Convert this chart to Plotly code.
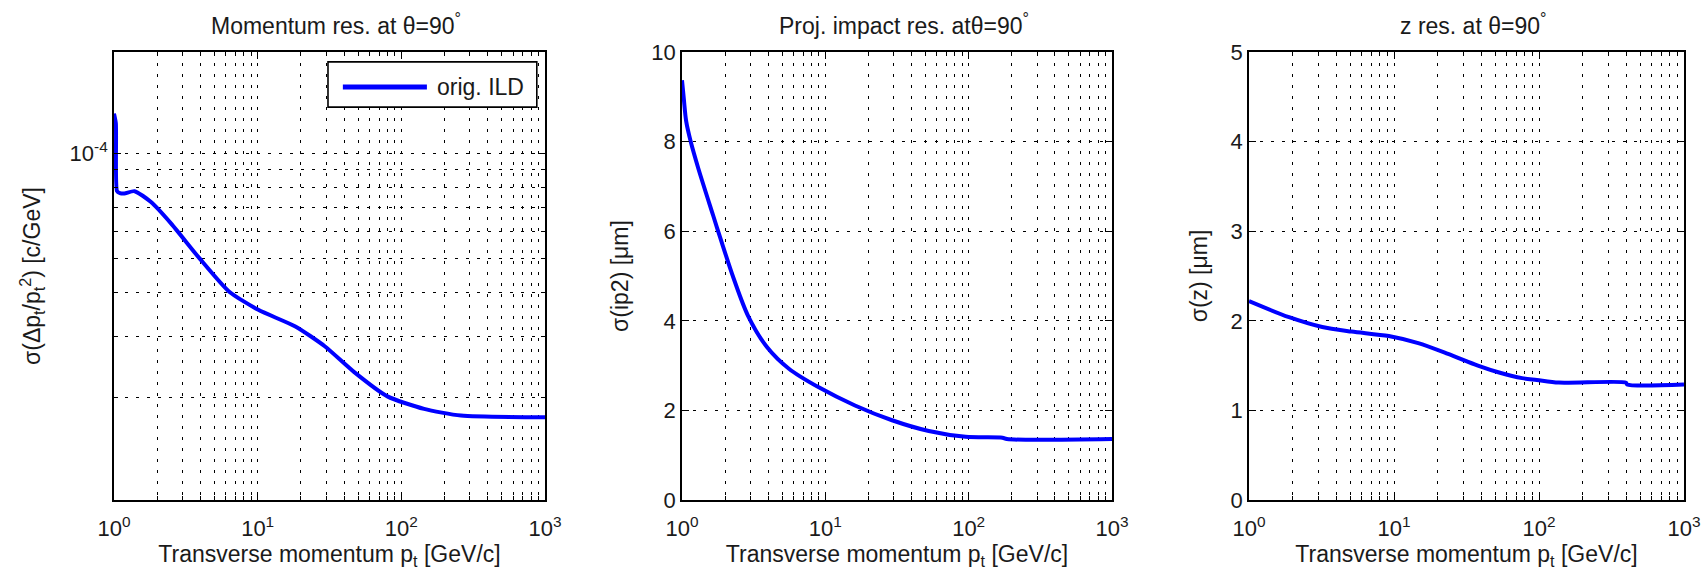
import plotly.graph_objects as go

# ---------------- data ----------------
pt_mom = [1.0, 1.03, 1.05, 1.1, 1.18, 1.39, 1.81, 2.5, 3.94, 6.31, 10.1, 18.3, 29.3, 47, 80, 144, 260, 1000]
res_mom = [1.30e-4, 1.22e-4, 7.8e-5, 7.7e-5, 7.68e-5, 7.8e-5, 7.26e-5, 6.3e-5, 5.01e-5, 4.03e-5,
           3.57e-5, 3.20e-5, 2.81e-5, 2.37e-5, 2.02e-5, 1.86e-5, 1.78e-5, 1.76e-5]

pt_ip = [1.0, 1.03, 1.07, 1.15, 1.3, 1.65, 1.85, 2.29, 2.9, 3.9, 5.57, 8.93, 16.1, 29.2, 52.7, 95.3, 172, 185, 1000]
res_ip = [9.37, 8.95, 8.45, 8.0, 7.4, 6.35, 5.85, 4.95, 4.1, 3.42, 2.93, 2.52, 2.11, 1.78, 1.54, 1.41, 1.39, 1.36, 1.36]

pt_z = [1.0, 1.89, 3.2, 5.1, 9.2, 14.7, 23.6, 37.9, 53.8, 76.5, 96.6, 137, 398, 405, 1000]
res_z = [2.22, 2.04, 1.93, 1.88, 1.83, 1.75, 1.63, 1.50, 1.42, 1.36, 1.34, 1.31, 1.31, 1.29, 1.29]

series_name = "orig. ILD"
titles = ["Momentum res. at θ=90<sup>°</sup>", "Proj. impact res. atθ=90<sup>°</sup>", "z res. at θ=90<sup>°</sup>"]
ylabels = ["σ(Δp<sub>t</sub>/p<sub>t</sub><sup>2</sup>) [c/GeV]", "σ(ip2) [μm]", "σ(z) [μm]"]
xlabel = "Transverse momentum p<sub>t</sub> [GeV/c]"

x_tickvals = [1, 10, 100, 1000]
x_ticktext = ["10<sup>0</sup>", "10<sup>1</sup>", "10<sup>2</sup>", "10<sup>3</sup>"]
x_minor = [m * d for d in (1, 10, 100) for m in range(2, 10)]
y1_tickvals = [1e-4]
y1_ticktext = ["10<sup>-4</sup>"]
y1_minor = [m * 1e-5 for m in range(2, 10)]
y2_tickvals = [0, 2, 4, 6, 8, 10]
y3_tickvals = [0, 1, 2, 3, 4, 5]

# ---------------- figure ----------------
W, H = 1706, 579
FONT = "Liberation Sans, Arial, sans-serif"
TXT = "#1a1a1a"
BLUE = "#0000ff"

fig = go.Figure()
fig.add_trace(go.Scatter(x=pt_mom, y=res_mom, mode="lines", name=series_name,
                         line=dict(color=BLUE, width=4, shape="spline", smoothing=0.6),
                         xaxis="x", yaxis="y", showlegend=False))
fig.add_trace(go.Scatter(x=pt_ip, y=res_ip, mode="lines", name=series_name,
                         line=dict(color=BLUE, width=4, shape="spline", smoothing=0.9),
                         xaxis="x2", yaxis="y2", showlegend=False))
fig.add_trace(go.Scatter(x=pt_z, y=res_z, mode="lines", name=series_name,
                         line=dict(color=BLUE, width=4, shape="spline", smoothing=0.8),
                         xaxis="x3", yaxis="y3", showlegend=False))

frames_px = [(114, 545), (682, 1112), (1249, 1684)]
top_px, bot_px = 52, 500
ydom = [1 - bot_px / H, 1 - top_px / H]

GD = "3px,8px"
common = dict(showline=True, linecolor="black", linewidth=1.8, mirror="allticks",
              ticks="inside", ticklen=7, tickwidth=1.3, tickcolor="black", zeroline=False,
              automargin=False, ticklabeloverflow="allow",
              showgrid=True, gridcolor="black", gridwidth=1.3, griddash=GD,
              tickfont=dict(size=22, color=TXT, family=FONT))

layout = dict(width=W, height=H, margin=dict(l=0, r=0, t=0, b=0, autoexpand=False),
              paper_bgcolor="white", plot_bgcolor="white",
              font=dict(family=FONT, color=TXT, size=22), showlegend=False)

for i, (l, r) in enumerate(frames_px):
    sfx = "" if i == 0 else str(i + 1)
    layout["xaxis" + sfx] = dict(
        type="log", range=[0, 3], domain=[l / W, r / W], anchor="y" + sfx,
        tickvals=x_tickvals, ticktext=x_ticktext, ticklabelstandoff=8,
        minor=dict(tickvals=x_minor, ticks="inside", ticklen=4, tickcolor="black",
                   showgrid=True, gridcolor="black", gridwidth=1.3, griddash=GD),
        title=dict(text=xlabel, font=dict(size=23, color=TXT, family=FONT), standoff=2),
        **common)

layout["yaxis"] = dict(type="log", range=[-4.991, -3.71], domain=ydom, anchor="x",
                       tickvals=y1_tickvals, ticktext=y1_ticktext,
                       minor=dict(tickvals=y1_minor, ticks="inside", ticklen=4, tickcolor="black",
                                  showgrid=True, gridcolor="black", gridwidth=1.3, griddash=GD),
                       title=dict(text=ylabels[0], font=dict(size=23, color=TXT, family=FONT), standoff=22),
                       **common)
layout["yaxis2"] = dict(range=[0, 10], domain=ydom, anchor="x2", tickvals=y2_tickvals,
                        title=dict(text=ylabels[1], font=dict(size=23, color=TXT, family=FONT), standoff=16),
                        **common)
layout["yaxis3"] = dict(range=[0, 5], domain=ydom, anchor="x3", tickvals=y3_tickvals,
                        title=dict(text=ylabels[2], font=dict(size=23, color=TXT, family=FONT), standoff=16),
                        **common)

anns = []
for i, (l, r) in enumerate(frames_px):
    anns.append(dict(text=titles[i], x=(l + r) / 2 / W + 0.004, y=1 - 24 / H, xref="paper", yref="paper",
                     showarrow=False, xanchor="center", yanchor="middle",
                     font=dict(size=23, color=TXT, family=FONT)))
# legend label (left panel)
anns.append(dict(text=series_name, x=0.745, y=0.922, xref="x domain", yref="y domain",
                 showarrow=False, xanchor="left", yanchor="middle",
                 font=dict(size=23, color=TXT, family=FONT)))
layout["annotations"] = anns

layout["shapes"] = [
    dict(type="rect", xref="x domain", yref="y domain", x0=0.4965, x1=0.981, y0=0.877, y1=0.978,
         fillcolor="white", line=dict(color="black", width=1.6), layer="above"),
    dict(type="line", xref="x domain", yref="y domain", x0=0.531, x1=0.726, y0=0.922, y1=0.922,
         line=dict(color=BLUE, width=5), layer="above"),
]

fig.update_layout(layout)
fig.write_html("out.html", config={"displayModeBar": False},
               post_script="document.body.style.margin='0px';document.body.style.overflow='hidden';")
